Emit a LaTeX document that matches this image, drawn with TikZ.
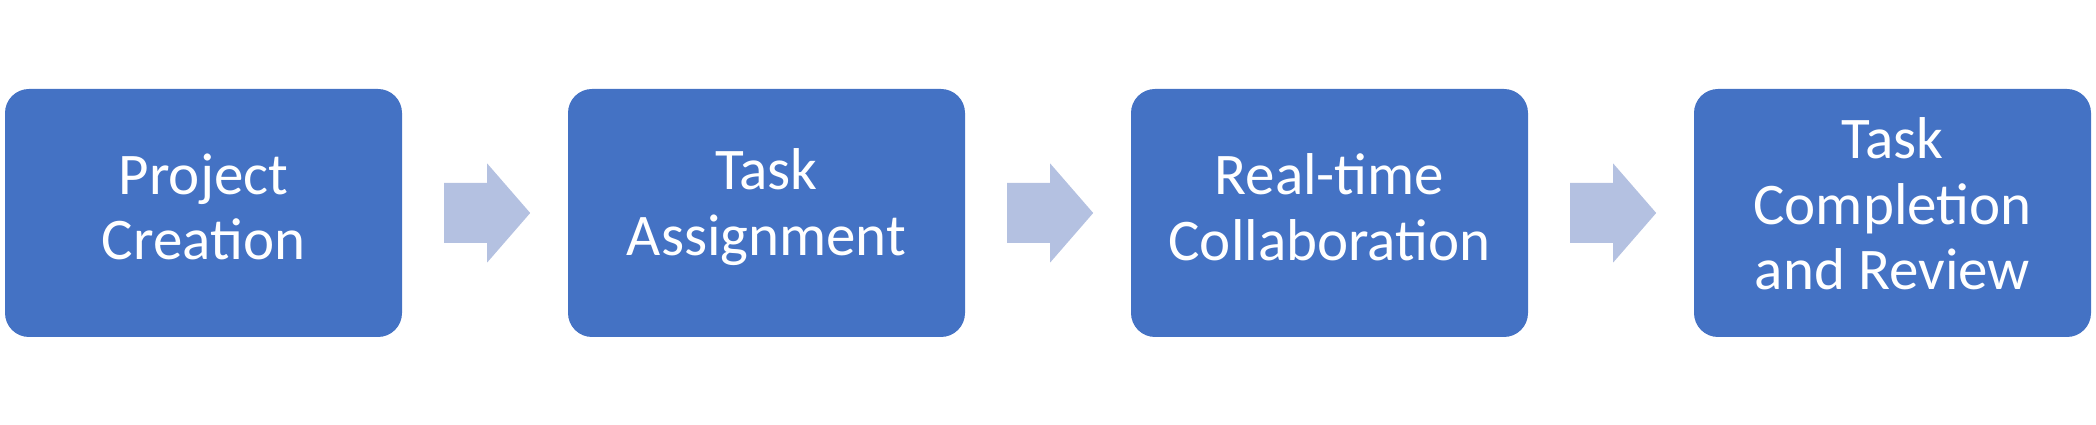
\documentclass[tikz,border=0pt]{standalone}
\usepackage{fontspec}
\setmainfont{Carlito}
\usetikzlibrary{calc}
\definecolor{boxblue}{RGB}{68,114,196}
\definecolor{arrowblue}{RGB}{180,193,225}
\begin{document}
\begin{tikzpicture}[x=1pt,y=1pt,
  stepbox/.style={fill=boxblue, draw=none, rounded corners=24pt,
    minimum width=397pt, minimum height=248pt, inner sep=0pt},
  steptext/.style={align=center, text=white, inner sep=0pt,
    font=\fontsize{59}{65.5}\selectfont},
  blockarrow/.style={fill=arrowblue, draw=none}]
\useasboundingbox (0,0) rectangle (2096,425);
\node[stepbox] (b1) at (203.5,212) {};
\node[stepbox] (b2) at (766.5,212) {};
\node[stepbox] (b3) at (1329.5,212) {};
\node[stepbox] (b4) at (1892.5,212) {};
\node[steptext] (t1) at ($(b1.center)+(0,6)$) {Project\\Creation};
\node[steptext] (t2) at ($(b2.center)+(0,6)$) {Task\\Assignment};
\node[steptext] (t3) at ($(b3.center)+(0,6)$) {Real-time\\Collaboration};
\node[steptext] (t4) at ($(b4.center)+(0,9)$) {Task\\Completion\\and Review};
\foreach \a in {b1,b2,b3}{
  \fill[blockarrow] ($(\a.east)+(42,30)$) -- ($(\a.east)+(85,30)$) -- ($(\a.east)+(85,49.5)$)
    -- ($(\a.east)+(128,0)$) -- ($(\a.east)+(85,-49.5)$) -- ($(\a.east)+(85,-30)$)
    -- ($(\a.east)+(42,-30)$) -- cycle;
}
\end{tikzpicture}
\end{document}
